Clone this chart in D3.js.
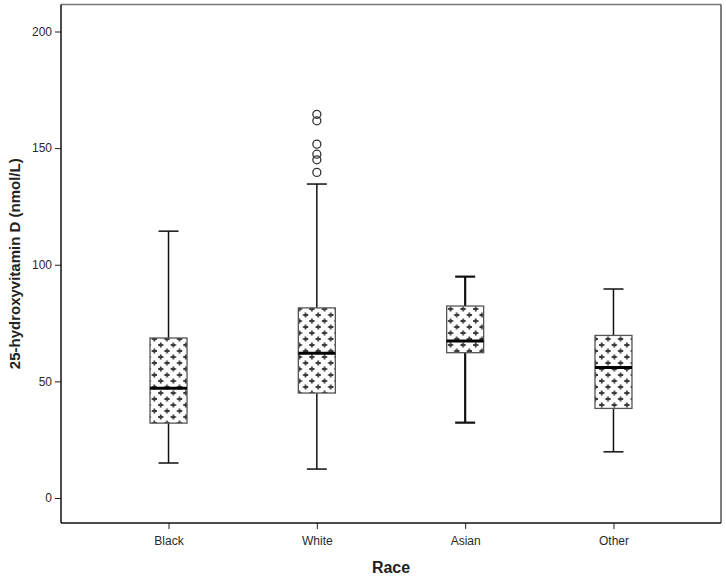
<!DOCTYPE html>
<html>
<head>
<meta charset="utf-8">
<script src="https://cdn.jsdelivr.net/npm/d3@7"></script>
<style>
html,body{margin:0;padding:0;background:#fff;}
svg{display:block;}
text{font-family:Arial,"Liberation Sans",sans-serif;}
</style>
</head>
<body>
<svg id="chart" width="726" height="579"></svg>
<script>
const categories = ["Black", "White", "Asian", "Other"];
const whiskerLow  = [15.0, 12.4, 32.3, 19.8];
const q1          = [32.1, 45.0, 62.3, 38.4];
const medians     = [47.1, 62.1, 67.3, 56.0];
const q3          = [68.6, 81.5, 82.3, 69.7];
const whiskerHigh = [114.4, 134.6, 94.9, 89.6];
const outliers = [
  {cat: "White", value: 139.6},
  {cat: "White", value: 145.0},
  {cat: "White", value: 147.4},
  {cat: "White", value: 151.7},
  {cat: "White", value: 161.7},
  {cat: "White", value: 164.5}
];
const yTicks = [0, 50, 100, 150, 200];

const svg = d3.select("#chart");
const frame = {left: 61, top: 4.5, right: 721, bottom: 523};

const y = d3.scaleLinear().domain([0, 200]).range([498, 31.5]);
const x = d3.scalePoint().domain(categories).range([frame.left, frame.right]).padding(0.725);

// pattern
const defs = svg.append("defs");
const pat = defs.append("pattern").attr("id", "plus").attr("patternUnits", "userSpaceOnUse")
  .attr("width", 12.6).attr("height", 12).attr("x", 0).attr("y", 0);
pat.append("rect").attr("width", 12.6).attr("height", 12).attr("fill", "#fff");
function plus(g, cx, cy) {
  g.append("path").attr("d", `M${cx-2.6},${cy}H${cx+2.6}M${cx},${cy-2.6}V${cy+2.6}`)
    .attr("stroke", "#3a3a3a").attr("stroke-width", 1.8).attr("fill", "none");
}
plus(pat, 3.2, 3);
plus(pat, 9.5, 9);

const data = categories.map((c, i) => ({
  cat: c, lo: whiskerLow[i], q1: q1[i], med: medians[i], q3: q3[i], hi: whiskerHigh[i]
}));

const boxW = 37, capW = 20;

// y axis
const yAxis = d3.axisLeft(y).tickValues(yTicks).tickSize(6).tickPadding(3);
const gy = svg.append("g").attr("transform", `translate(${frame.left},0)`).call(yAxis);
gy.select(".domain").remove();
gy.selectAll("line").attr("stroke", "#222");
gy.selectAll("text").attr("font-size", 12).attr("fill", "#2a2a2a");

// x axis
const xAxis = d3.axisBottom(x).tickSize(6).tickPadding(7);
const gx = svg.append("g").attr("transform", `translate(0,${frame.bottom})`).call(xAxis);
gx.select(".domain").remove();
gx.selectAll("line").attr("stroke", "#222");
gx.selectAll("text").attr("font-size", 12).attr("fill", "#2a2a2a");

// frame
svg.append("line").attr("x1", frame.left).attr("x2", frame.right).attr("y1", frame.top).attr("y2", frame.top)
  .attr("stroke", "#777").attr("stroke-width", 1.5);
svg.append("line").attr("x1", frame.right).attr("x2", frame.right).attr("y1", frame.top).attr("y2", frame.bottom)
  .attr("stroke", "#555").attr("stroke-width", 1.5);
svg.append("line").attr("x1", frame.left).attr("x2", frame.left).attr("y1", frame.top).attr("y2", frame.bottom)
  .attr("stroke", "#111").attr("stroke-width", 1.5);
svg.append("line").attr("x1", frame.left).attr("x2", frame.right).attr("y1", frame.bottom).attr("y2", frame.bottom)
  .attr("stroke", "#111").attr("stroke-width", 1.5);

const g = svg.append("g");
const box = g.selectAll("g.box").data(data).join("g").attr("class", "box");
const sw = d => d.cat === "Asian" ? 2.2 : 1.5;

// whiskers
box.append("line").attr("x1", d => x(d.cat)).attr("x2", d => x(d.cat))
  .attr("y1", d => y(d.hi)).attr("y2", d => y(d.q3))
  .attr("stroke", "#111").attr("stroke-width", sw);
box.append("line").attr("x1", d => x(d.cat)).attr("x2", d => x(d.cat))
  .attr("y1", d => y(d.q1)).attr("y2", d => y(d.lo))
  .attr("stroke", "#111").attr("stroke-width", sw);
box.append("line").attr("x1", d => x(d.cat) - capW / 2).attr("x2", d => x(d.cat) + capW / 2)
  .attr("y1", d => y(d.hi)).attr("y2", d => y(d.hi))
  .attr("stroke", "#111").attr("stroke-width", sw);
box.append("line").attr("x1", d => x(d.cat) - capW / 2).attr("x2", d => x(d.cat) + capW / 2)
  .attr("y1", d => y(d.lo)).attr("y2", d => y(d.lo))
  .attr("stroke", "#111").attr("stroke-width", sw);

// boxes
box.append("rect").attr("x", d => x(d.cat) - boxW / 2).attr("width", boxW)
  .attr("y", d => y(d.q3)).attr("height", d => y(d.q1) - y(d.q3))
  .attr("fill", "url(#plus)").attr("stroke", "#555").attr("stroke-width", 1.3);
box.append("line").attr("x1", d => x(d.cat) - boxW / 2).attr("x2", d => x(d.cat) + boxW / 2)
  .attr("y1", d => y(d.med)).attr("y2", d => y(d.med))
  .attr("stroke", "#000").attr("stroke-width", 3);

// outliers
g.selectAll("circle.out").data(outliers).join("circle").attr("class", "out")
  .attr("cx", d => x(d.cat)).attr("cy", d => y(d.value)).attr("r", 4)
  .attr("fill", "none").attr("stroke", "#333").attr("stroke-width", 1.3);

// titles
svg.append("text").attr("x", (frame.left + frame.right) / 2).attr("y", 573)
  .attr("text-anchor", "middle").attr("font-size", 16).attr("font-weight", "bold").attr("fill", "#222")
  .text("Race");
svg.append("text").attr("transform", `translate(20,${(frame.top + frame.bottom) / 2}) rotate(-90)`)
  .attr("text-anchor", "middle").attr("font-size", 15).attr("font-weight", "bold").attr("fill", "#222")
  .text("25-hydroxyvitamin D (nmol/L)");
</script>
</body>
</html>
